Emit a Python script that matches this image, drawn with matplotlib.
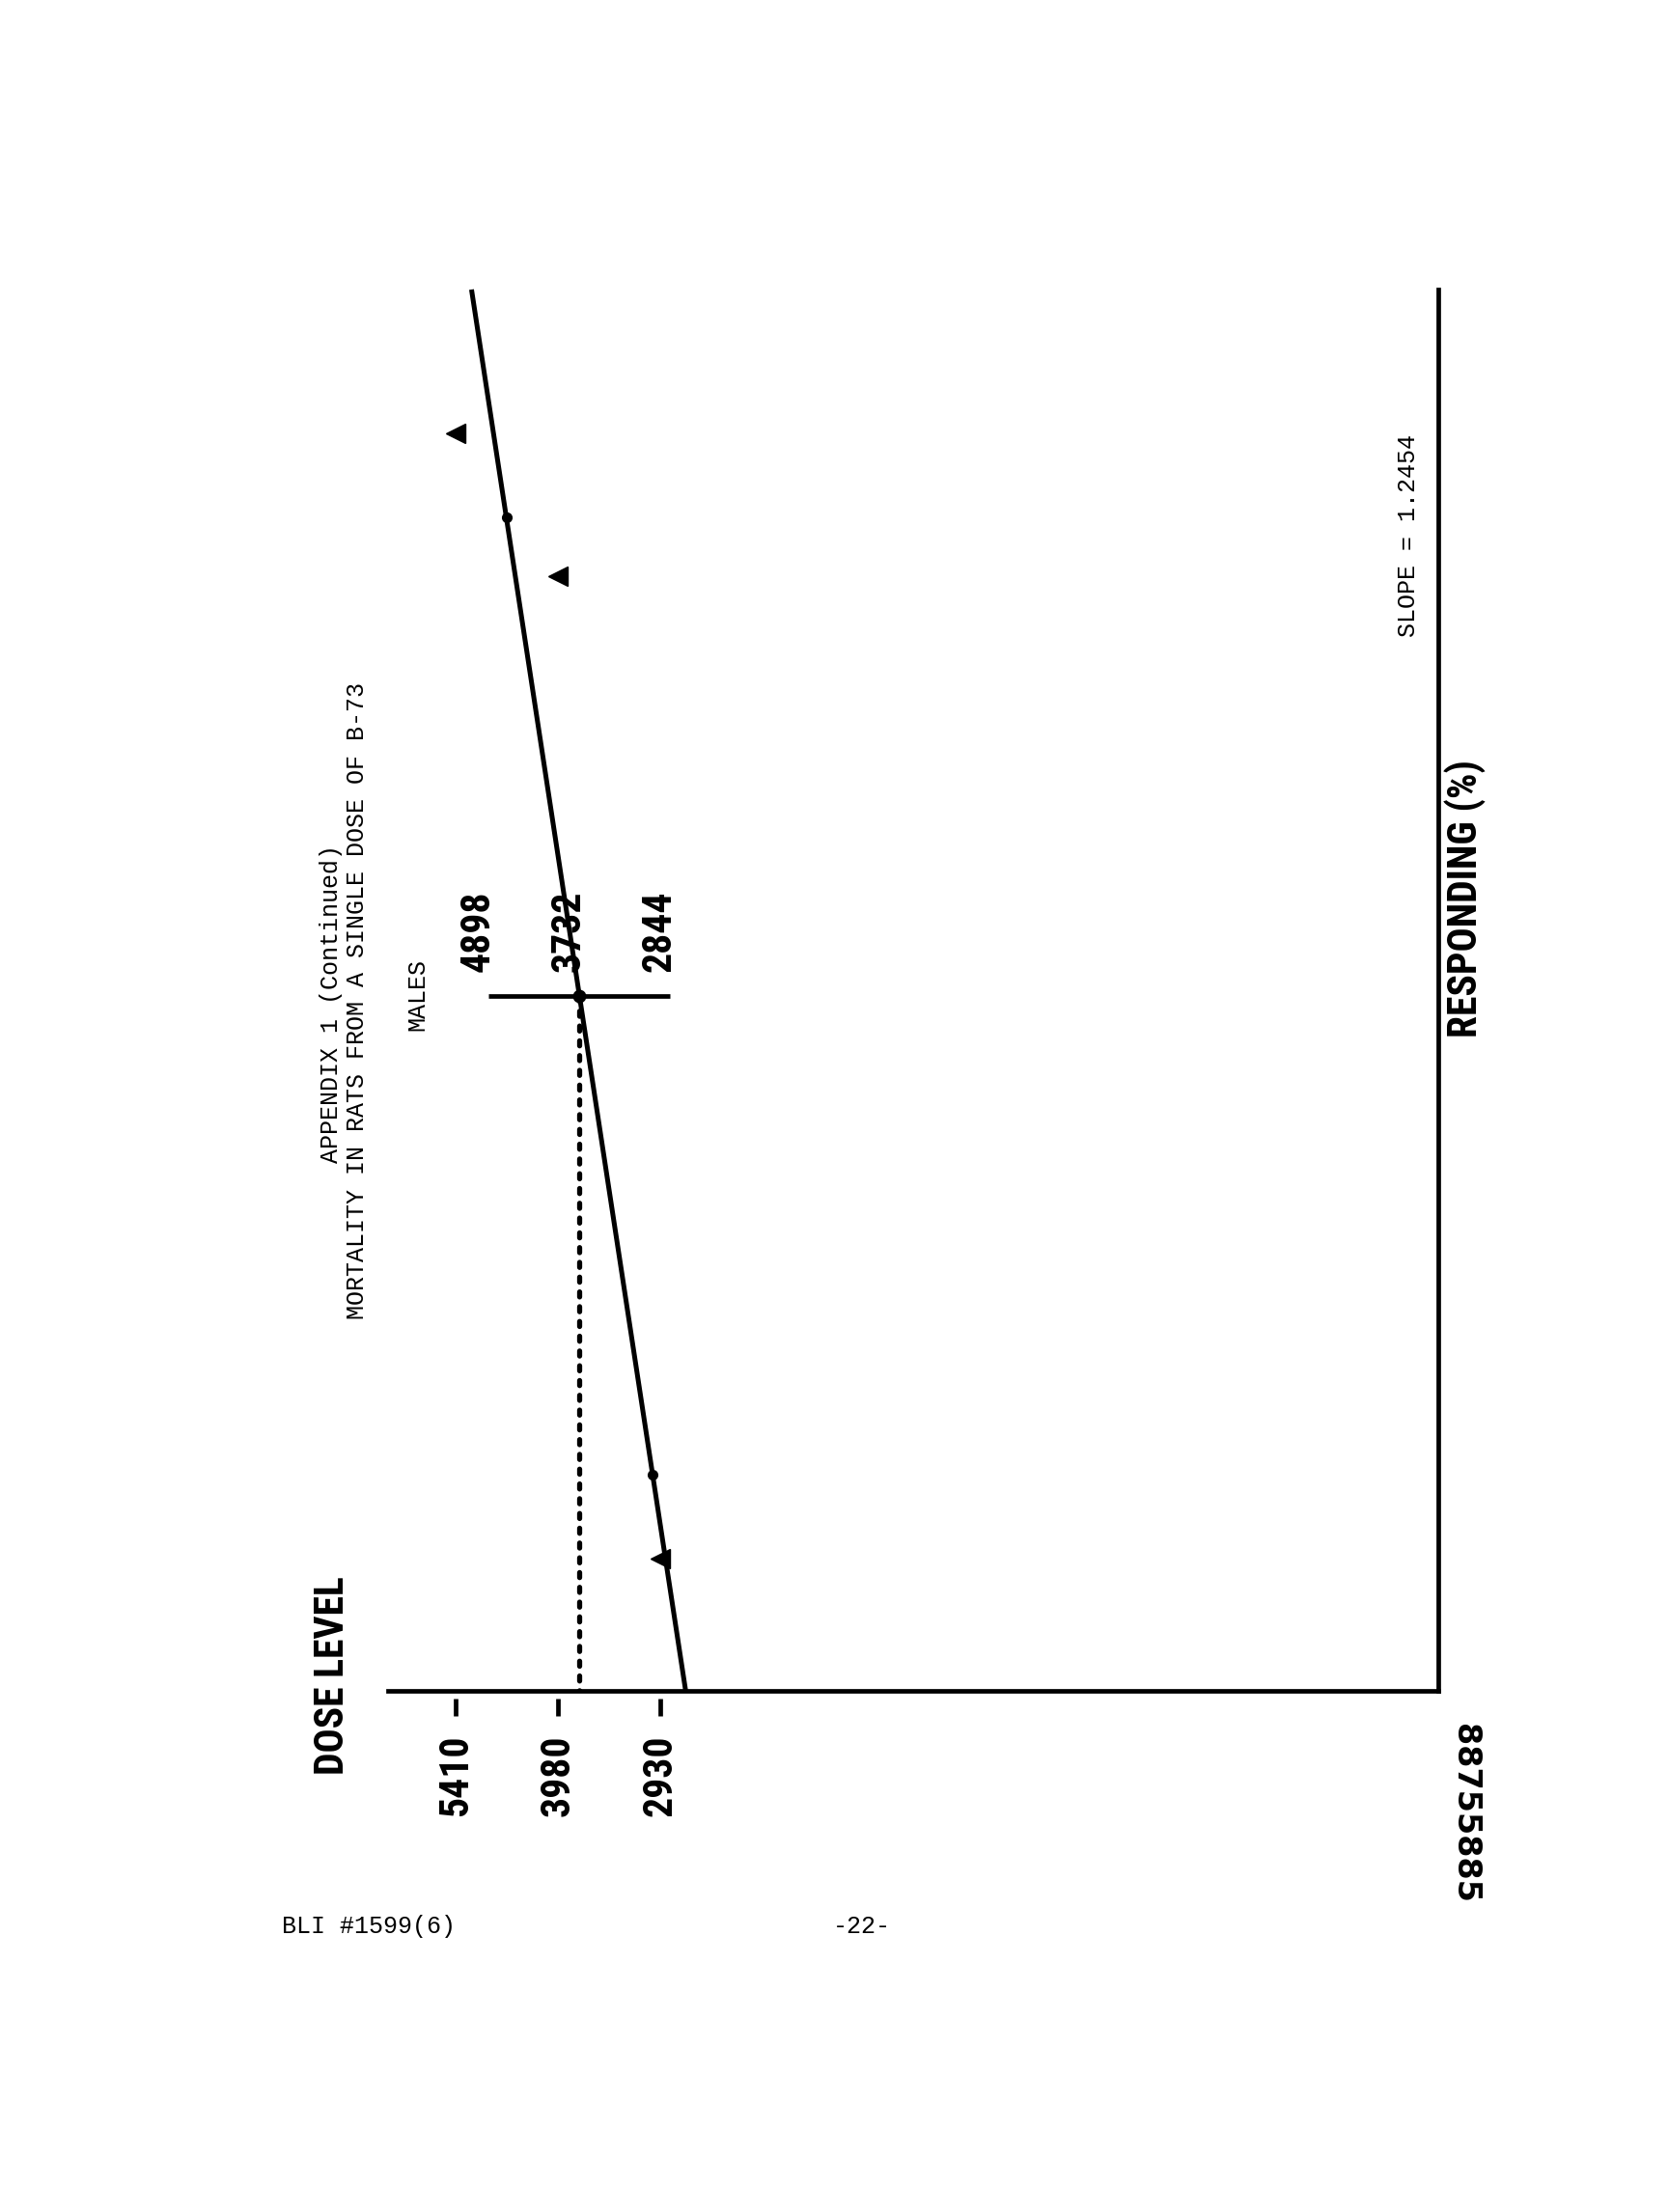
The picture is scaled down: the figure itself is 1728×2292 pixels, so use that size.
import numpy as np
import matplotlib
matplotlib.use('Agg')
import matplotlib.pyplot as plt
from statistics import NormalDist

# --- data ---
dose_levels = [5410, 3980, 2930]            # dose groups (tick labels)
responding_pct = [88, 81, 12]               # observed response (%) per dose group
ld50 = 3732
ld50_low, ld50_high = 2844, 4898            # confidence limits
slope = 1.2454                              # slope function S

# --- page layout (pixel coords of the 1728x2292 page) ---
W, H = 1728, 2292
PX_DEC = 795          # pixels per decade of dose
A = 3440              # page x of log10(dose) = 0
AX_L, AX_R, AX_T, AX_B = 402, 1490, 300, 1752
PROBIT_LIM = (3.548, 6.476)

MONO = ['Liberation Mono', 'DejaVu Sans Mono']
BOLD = ['Roboto Condensed', 'Roboto', 'DejaVu Sans']
BIG = 30


def fx(px):
    return px / W


def fy(py):
    return 1 - py / H


def probit(pct):
    return NormalDist().inv_cdf(pct / 100.0) + 5


fig = plt.figure(figsize=(W / 100, H / 100), dpi=100)
fig.patch.set_facecolor('white')

ax = fig.add_axes([fx(AX_L), fy(AX_B), (AX_R - AX_L) / W, (AX_B - AX_T) / H])
ax.set_xscale('log')
ax.set_xlim(10 ** ((A - AX_L) / PX_DEC), 10 ** ((A - AX_R) / PX_DEC))
ax.set_ylim(*PROBIT_LIM)
ax.patch.set_alpha(0)
for side in ['left', 'top']:
    ax.spines[side].set_visible(False)
for side in ['bottom', 'right']:
    ax.spines[side].set_linewidth(3.4)
    ax.spines[side].set_color('black')
ax.tick_params(which='both', length=0, labelbottom=False, labelleft=False)
ax.set_xticks([])
ax.set_yticks([])
ax.xaxis.set_minor_locator(matplotlib.ticker.NullLocator())

# fitted probit line
log_s = np.log10(slope)
p = np.array(PROBIT_LIM)
line_dose = 10 ** (np.log10(ld50) + (p - 5) * log_s)
ax.plot(line_dose, p, color='black', lw=3.6, solid_capstyle='butt', clip_on=False)

# ED16 / ED84 marks on the line
ax.plot([ld50 / slope, ld50 * slope], [4, 6], 'o', color='black', ms=7, mec='black')

# observed points
ax.plot(dose_levels, [probit(v) for v in responding_pct], '<', color='black', ms=15,
        clip_on=False)

# LD50 with confidence bar and dotted drop line
ax.hlines(5, ld50_high, ld50_low, color='black', lw=3.4)
ax.plot([ld50, ld50], [5, PROBIT_LIM[0]], color='black', lw=3.8,
        linestyle=(0, (1.0, 1.9)), dash_capstyle='round')
ax.plot([ld50], [5], 'o', color='black', ms=9)

for v in [ld50_high, ld50, ld50_low]:
    ax.annotate(str(v), xy=(v, 5), xytext=(-8, 18), textcoords='offset points',
                rotation=90, ha='center', va='bottom', fontsize=BIG,
                fontweight='bold', family=BOLD)

# dose ticks (detached marks below the axis) and labels
trans = ax.get_xaxis_transform()
ax.vlines(dose_levels, -8 / (AX_B - AX_T), -26 / (AX_B - AX_T), transform=trans,
          color='black', lw=3.4, clip_on=False)
for d in dose_levels:
    ax.text(d, -46 / (AX_B - AX_T), str(d), transform=trans, rotation=90,
            ha='center', va='top', fontsize=BIG, fontweight='bold', family=BOLD)

# axis titles
fig.text(fx(345), fy(1736), 'DOSE LEVEL', rotation=90, ha='center', va='center',
         fontsize=BIG, fontweight='bold', family=BOLD)
fig.text(fx(1518), fy(931), 'RESPONDING (%)', rotation=90, ha='center', va='center',
         fontsize=BIG, fontweight='bold', family=BOLD)
fig.text(fx(1459), fy(555), 'SLOPE = 1.2454', rotation=90, ha='center', va='center',
         fontsize=18, family=MONO)

# page titles
fig.text(fx(343), fy(1040), 'APPENDIX 1 (Continued)', rotation=90, ha='center',
         va='center', fontsize=18, family=MONO)
fig.text(fx(370), fy(1037), 'MORTALITY IN RATS FROM A SINGLE DOSE OF B-73',
         rotation=90, ha='center', va='center', fontsize=18, family=MONO)
fig.text(fx(432), fy(1031), 'MALES', rotation=90, ha='center', va='center',
         fontsize=18, family=MONO)

# footer and stamp
fig.text(fx(292), fy(1996), 'BLI #1599(6)', ha='left', va='center', fontsize=18,
         family=MONO)
fig.text(fx(893), fy(1996), '-22-', ha='center', va='center', fontsize=18,
         family=MONO)
fig.text(fx(1517), fy(1879), '88755885', rotation=-90, ha='center', va='center',
         fontsize=24, fontweight='bold', family=['DejaVu Sans'])

fig.savefig('out.png', dpi=100, facecolor='white')
